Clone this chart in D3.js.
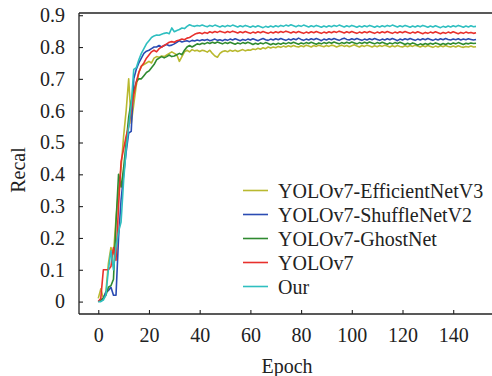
<!DOCTYPE html>
<html>
<head>
<meta charset="utf-8">
<script src="https://cdn.jsdelivr.net/npm/d3@7"></script>
<style>
  html, body { margin: 0; padding: 0; background: #fff; }
  svg { display: block; }
  text { font-family: "Liberation Serif", "Times New Roman", serif; fill: #222; }
</style>
</head>
<body>
<svg id="chart" width="492" height="376"></svg>
<script>
const seriesNames = ["YOLOv7-EfficientNetV3", "YOLOv7-ShuffleNetV2", "YOLOv7-GhostNet", "YOLOv7", "Our"];
const seriesColors = ["#b9b930", "#2b4cb3", "#2f8a30", "#e8302c", "#2fbfc0"];
const xTicks = [0, 20, 40, 60, 80, 100, 120, 140];
const yTicks = [0, 0.1, 0.2, 0.3, 0.4, 0.5, 0.6, 0.7, 0.8, 0.9];

const efficientNetV3 = [
 0.01,0.04,0.01,0.03,0.12,0.17,0.15,0.26,0.35,0.42,
 0.52,0.60,0.70,0.56,0.62,0.68,0.72,0.74,0.745,0.75,
 0.755,0.75,0.765,0.77,0.768,0.772,0.77,0.775,0.78,0.785,
 0.78,0.775,0.755,0.77,0.785,0.79,0.785,0.792,0.788,0.79,
 0.786,0.79,0.788,0.784,0.79,0.78,0.772,0.768,0.78,0.786,
 0.788,0.785,0.79,0.787,0.79,0.786,0.789,0.792,0.788,0.791,
 0.79,0.794,0.792,0.796,0.793,0.798,0.795,0.80,0.797,0.80,
 0.798,0.802,0.799,0.803,0.80,0.804,0.801,0.805,0.802,0.80,
 0.804,0.801,0.806,0.803,0.80,0.805,0.802,0.806,0.803,0.801,
 0.805,0.802,0.806,0.804,0.80,0.803,0.806,0.802,0.805,0.801,
 0.804,0.807,0.803,0.80,0.805,0.802,0.806,0.803,0.80,0.804,
 0.801,0.805,0.802,0.806,0.803,0.80,0.804,0.801,0.805,0.802,
 0.80,0.804,0.801,0.805,0.802,0.806,0.803,0.80,0.804,0.801,
 0.805,0.802,0.799,0.803,0.80,0.804,0.801,0.805,0.802,0.80,
 0.803,0.80,0.804,0.801,0.799,0.802,0.80,0.803,0.80,0.801
];
const shuffleNetV2 = [
 0.00,0.005,0.01,0.03,0.035,0.045,0.02,0.02,0.20,0.32,
 0.40,0.47,0.53,0.535,0.70,0.73,0.75,0.765,0.78,0.787,
 0.79,0.795,0.80,0.80,0.805,0.80,0.805,0.808,0.804,0.806,
 0.81,0.815,0.82,0.816,0.818,0.82,0.817,0.821,0.819,0.822,
 0.82,0.823,0.821,0.824,0.82,0.822,0.825,0.821,0.823,0.82,
 0.824,0.821,0.825,0.822,0.826,0.823,0.82,0.824,0.821,0.825,
 0.822,0.826,0.823,0.82,0.824,0.827,0.823,0.821,0.825,0.822,
 0.826,0.823,0.827,0.824,0.821,0.825,0.822,0.826,0.823,0.828,
 0.824,0.821,0.825,0.822,0.826,0.823,0.827,0.824,0.82,0.825,
 0.822,0.826,0.823,0.827,0.824,0.821,0.825,0.828,0.824,0.822,
 0.826,0.823,0.827,0.824,0.821,0.825,0.822,0.826,0.823,0.827,
 0.824,0.821,0.825,0.822,0.826,0.823,0.827,0.824,0.82,0.825,
 0.822,0.826,0.823,0.827,0.824,0.821,0.825,0.822,0.826,0.823,
 0.827,0.824,0.821,0.825,0.822,0.826,0.823,0.827,0.824,0.822,
 0.825,0.823,0.826,0.822,0.825,0.823,0.826,0.824,0.822,0.824
];
const ghostNet = [
 0.00,0.005,0.01,0.02,0.045,0.05,0.07,0.25,0.40,0.36,
 0.42,0.50,0.58,0.63,0.66,0.69,0.70,0.70,0.71,0.72,
 0.725,0.735,0.745,0.76,0.765,0.77,0.766,0.77,0.775,0.77,
 0.772,0.776,0.78,0.776,0.79,0.80,0.805,0.80,0.805,0.81,
 0.808,0.812,0.81,0.814,0.811,0.815,0.812,0.816,0.813,0.81,
 0.814,0.811,0.815,0.812,0.809,0.813,0.81,0.814,0.811,0.815,
 0.812,0.808,0.812,0.809,0.813,0.81,0.814,0.811,0.807,0.811,
 0.808,0.812,0.809,0.813,0.81,0.814,0.811,0.815,0.812,0.809,
 0.813,0.81,0.814,0.811,0.815,0.812,0.809,0.813,0.81,0.814,
 0.811,0.815,0.812,0.816,0.813,0.81,0.814,0.811,0.815,0.812,
 0.816,0.813,0.81,0.814,0.811,0.815,0.812,0.816,0.813,0.81,
 0.814,0.811,0.815,0.812,0.809,0.813,0.81,0.814,0.811,0.815,
 0.812,0.808,0.812,0.809,0.813,0.81,0.806,0.81,0.807,0.811,
 0.808,0.812,0.809,0.813,0.81,0.807,0.811,0.808,0.812,0.809,
 0.813,0.81,0.814,0.811,0.808,0.812,0.81,0.813,0.811,0.812
];
const yolov7 = [
 0.00,0.01,0.10,0.10,0.10,0.11,0.17,0.13,0.30,0.44,
 0.48,0.52,0.55,0.60,0.65,0.69,0.72,0.74,0.75,0.765,
 0.775,0.785,0.79,0.785,0.795,0.80,0.805,0.81,0.815,0.817,
 0.815,0.82,0.822,0.825,0.823,0.828,0.83,0.835,0.84,0.843,
 0.845,0.842,0.846,0.843,0.848,0.845,0.849,0.846,0.85,0.847,
 0.845,0.849,0.846,0.85,0.847,0.844,0.848,0.845,0.849,0.846,
 0.843,0.847,0.844,0.848,0.845,0.849,0.846,0.843,0.847,0.844,
 0.848,0.845,0.849,0.846,0.85,0.847,0.844,0.848,0.845,0.849,
 0.846,0.843,0.847,0.844,0.848,0.845,0.849,0.846,0.843,0.847,
 0.844,0.848,0.845,0.849,0.846,0.85,0.847,0.844,0.848,0.845,
 0.849,0.846,0.843,0.847,0.844,0.848,0.845,0.849,0.846,0.843,
 0.847,0.844,0.848,0.845,0.849,0.846,0.843,0.847,0.844,0.848,
 0.845,0.849,0.846,0.843,0.847,0.844,0.848,0.845,0.842,0.846,
 0.843,0.847,0.844,0.848,0.845,0.842,0.846,0.843,0.847,0.844,
 0.848,0.845,0.842,0.846,0.843,0.847,0.844,0.846,0.843,0.845
];
const ours = [
 0.00,0.00,0.005,0.02,0.10,0.16,0.10,0.17,0.22,0.25,
 0.38,0.48,0.55,0.62,0.73,0.735,0.76,0.78,0.795,0.81,
 0.82,0.83,0.835,0.838,0.837,0.84,0.843,0.845,0.842,0.86,
 0.848,0.852,0.855,0.86,0.858,0.865,0.87,0.867,0.865,0.868,
 0.866,0.869,0.866,0.864,0.868,0.865,0.869,0.866,0.863,0.867,
 0.864,0.868,0.865,0.869,0.866,0.863,0.867,0.864,0.868,0.865,
 0.862,0.866,0.863,0.867,0.864,0.861,0.865,0.862,0.866,0.863,
 0.867,0.864,0.868,0.865,0.869,0.866,0.87,0.867,0.864,0.868,
 0.865,0.869,0.866,0.863,0.867,0.864,0.868,0.865,0.862,0.866,
 0.863,0.867,0.864,0.868,0.865,0.869,0.866,0.863,0.867,0.864,
 0.868,0.865,0.862,0.866,0.863,0.867,0.864,0.868,0.865,0.862,
 0.866,0.863,0.867,0.864,0.868,0.865,0.869,0.866,0.863,0.867,
 0.864,0.868,0.865,0.862,0.866,0.863,0.867,0.864,0.868,0.865,
 0.862,0.866,0.863,0.867,0.864,0.861,0.865,0.862,0.866,0.863,
 0.867,0.864,0.868,0.865,0.862,0.866,0.863,0.867,0.864,0.865
];
const seriesValues = [efficientNetV3, shuffleNetV2, ghostNet, yolov7, ours];

const svg = d3.select("#chart");
const plotLeft = 79, plotRight = 492, plotTop = 13, plotBottom = 314;
const x = d3.scaleLinear().domain([-7.6, 155.3]).range([plotLeft, plotRight]);
const y = d3.scaleLinear().domain([-0.039, 0.907]).range([plotBottom, plotTop]);
const fontSize = 20;

// lines
const line = d3.line().x((d, i) => x(i)).y(d => y(d));
const g = svg.append("g");
seriesValues.forEach((vals, k) => {
  g.append("path")
    .datum(vals)
    .attr("fill", "none")
    .attr("stroke", seriesColors[k])
    .attr("stroke-width", 1.6)
    .attr("stroke-linejoin", "round")
    .attr("d", line);
});

// axes
const xAxis = d3.axisBottom(x).tickValues(xTicks).tickSizeInner(-4).tickSizeOuter(0).tickPadding(14)
  .tickFormat(d3.format("d"));
const gx = svg.append("g").attr("transform", `translate(0,${plotBottom})`).call(xAxis);
const yAxis = d3.axisLeft(y).tickValues(yTicks).tickSizeInner(-4).tickSizeOuter(0).tickPadding(14)
  .tickFormat(d => d === 0 ? "0" : d3.format(".1f")(d));
const gy = svg.append("g").attr("transform", `translate(${plotLeft},0)`).call(yAxis);
[gx, gy].forEach(a => {
  a.select(".domain").attr("stroke", "#222").attr("stroke-width", 1.3);
  a.selectAll(".tick line").attr("stroke", "#222").attr("stroke-width", 1.1);
  a.selectAll(".tick text").style("font-family", '"Liberation Serif", serif')
    .style("font-size", fontSize + "px").attr("fill", "#222");
});
gx.select(".domain").attr("d", `M${plotLeft},0H${plotRight}`);
gy.select(".domain").attr("d", `M0,${plotBottom}V${plotTop}`);
// top frame
svg.append("line").attr("x1", plotLeft).attr("x2", plotRight).attr("y1", plotTop).attr("y2", plotTop)
  .attr("stroke", "#222").attr("stroke-width", 1.3);

// axis labels
svg.append("text").attr("x", 287).attr("y", 373).attr("text-anchor", "middle")
  .style("font-size", fontSize + "px").text("Epoch");
svg.append("text").attr("transform", "translate(25,170) rotate(-90)").attr("text-anchor", "middle")
  .style("font-size", fontSize + "px").text("Recal");

// legend
const lg = svg.append("g");
seriesNames.forEach((name, k) => {
  const ly = 190.5 + k * 24;
  lg.append("line").attr("x1", 243).attr("x2", 268).attr("y1", ly).attr("y2", ly)
    .attr("stroke", seriesColors[k]).attr("stroke-width", 1.6);
  lg.append("text").attr("x", 278).attr("y", ly).attr("dy", "0.35em")
    .style("font-size", fontSize + "px").text(name);
});
</script>
</body>
</html>
